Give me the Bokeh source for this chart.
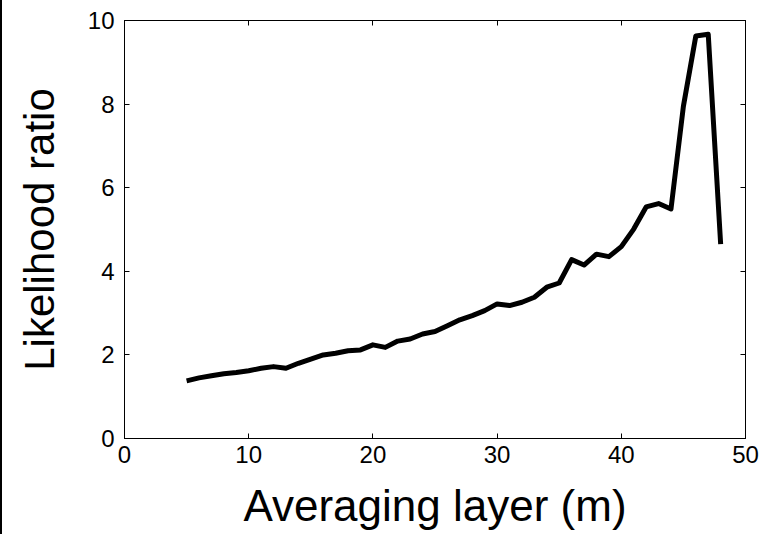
from bokeh.plotting import figure
from bokeh.models import LinearAxis, Range1d, FixedTicker
from bokeh.embed import file_html
from bokeh.resources import INLINE

layers = list(range(5, 49))
ratio = [1.38, 1.45, 1.50, 1.55, 1.58, 1.62, 1.68, 1.72, 1.68, 1.80,
         1.90, 2.00, 2.04, 2.10, 2.12, 2.24, 2.18, 2.33, 2.38, 2.50,
         2.56, 2.70, 2.84, 2.94, 3.06, 3.22, 3.18, 3.26, 3.38, 3.62,
         3.72, 4.28, 4.15, 4.41, 4.35, 4.59, 5.01, 5.54, 5.62, 5.49,
         7.95, 9.63, 9.67, 4.65]
x_ticks = [0, 10, 20, 30, 40, 50]
y_ticks = [0, 2, 4, 6, 8, 10]

FONT = "Liberation Sans"

p = figure(width=769, height=534, output_backend="svg", toolbar_location=None,
           x_range=Range1d(0, 50), y_range=Range1d(0, 10),
           frame_width=621, frame_height=418,
           min_border_left=122, min_border_right=26, min_border_top=20, min_border_bottom=96,
           background_fill_color="white", border_fill_color="white",
           outline_line_color="black", outline_line_width=1)
p.styles = {"border-left": "2px solid black"}
p.grid.visible = False

p.line(layers, ratio, line_color="black", line_width=5, line_join="round")

for ax in (p.xaxis[0], p.yaxis[0]):
    ax.major_tick_in = 5
    ax.major_tick_out = 0
    ax.minor_tick_in = 0
    ax.minor_tick_out = 0
    ax.axis_line_color = "black"
    ax.major_label_text_font = FONT
    ax.major_label_text_font_size = "24px"
    ax.major_label_text_color = "black"
    ax.axis_label_text_font = FONT
    ax.axis_label_text_font_style = "normal"
    ax.axis_label_text_color = "black"

p.xaxis[0].ticker = FixedTicker(ticks=x_ticks)
p.yaxis[0].ticker = FixedTicker(ticks=y_ticks)
p.xaxis[0].axis_label = "Averaging layer (m)"
p.yaxis[0].axis_label = "Likelihood ratio"
p.xaxis[0].axis_label_text_font_size = "44px"
p.yaxis[0].axis_label_text_font_size = "42px"
p.xaxis[0].major_label_standoff = 7
p.yaxis[0].major_label_standoff = 10
p.xaxis[0].axis_label_standoff = 15
p.yaxis[0].axis_label_standoff = 22

top = LinearAxis(ticker=FixedTicker(ticks=x_ticks), major_tick_in=5, major_tick_out=0,
                 minor_tick_in=0, minor_tick_out=0,
                 major_label_overrides={t: "" for t in x_ticks},
                 major_label_standoff=0, axis_line_color="black")
right = LinearAxis(ticker=FixedTicker(ticks=y_ticks), major_tick_in=5, major_tick_out=0,
                   minor_tick_in=0, minor_tick_out=0,
                   major_label_overrides={t: "" for t in y_ticks},
                   major_label_standoff=0, axis_line_color="black")
p.add_layout(top, "above")
p.add_layout(right, "right")

open("out.html", "w").write(file_html(p, INLINE))
